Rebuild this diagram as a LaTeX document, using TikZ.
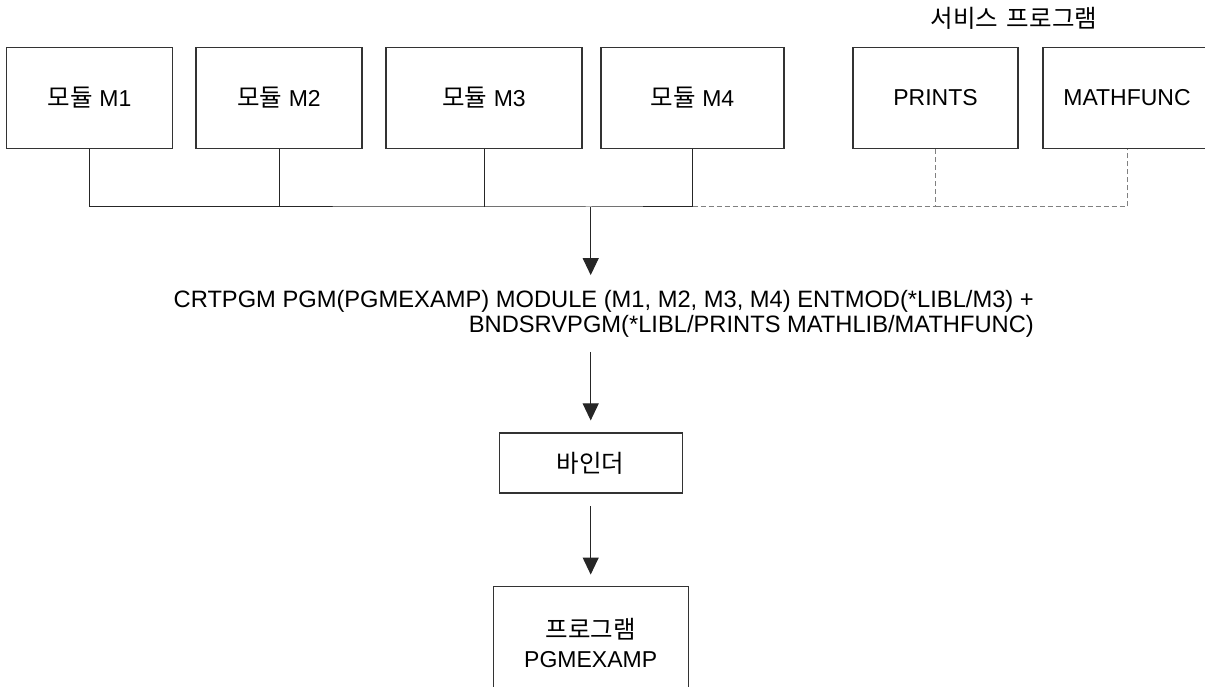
\documentclass[tikz,border=0pt]{standalone}
\usepackage{fontspec}
\setmainfont{Liberation Sans}
\newfontfamily\kr[Scale=1.065]{Noto Sans CJK KR}
\usetikzlibrary{arrows.meta}
\begin{document}
\begin{tikzpicture}[x=1pt,y=-1pt,
  box/.style={draw=black!80, line width=1.1pt, inner sep=0pt,
    font=\fontsize{23}{26}\selectfont},
  link/.style={draw=black!85, line width=1pt},
  svclink/.style={draw=black!50, line width=1pt, dash pattern=on 5pt off 3pt},
  flow/.style={link, -{Triangle[length=17pt,width=16pt]}},
]
\useasboundingbox (0,0) rectangle (1205,687);
\clip (0,0) rectangle (1205,687);

% modules
\node[box, minimum width=166pt, minimum height=101pt] (m1) at (89.7,97.7) {{\kr 모듈} M1};
\node[box, minimum width=166pt, minimum height=101pt] (m2) at (279,97.7) {{\kr 모듈} M2};
\node[box, minimum width=196pt, minimum height=101pt] (m3) at (484,97.7) {{\kr 모듈} M3};
\node[box, minimum width=183pt, minimum height=101pt] (m4) at (692.5,97.7) {{\kr 모듈} M4};

% service programs
\node[font=\kr\fontsize{23}{26}\selectfont] (svc) at (1014,18) {서비스\hspace{3pt} 프로그램};
\node[box, minimum width=165pt, minimum height=101pt] (prt) at (935.5,97.7) {PRINTS};
\node[box, minimum width=168pt, minimum height=101pt] (mf) at (1127,97.7) {MATHFUNC};

% command
\node[align=right, anchor=east, inner sep=0pt, font=\fontsize{23.7}{24.7}\selectfont]
  (cmd) at (1034,313.7)
  {CRTPGM PGM(PGMEXAMP) MODULE (M1, M2, M3, M4) ENTMOD(*LIBL/M3) +\\
   BNDSRVPGM(*LIBL/PRINTS MATHLIB/MATHFUNC)};

% binder and result
\node[box, minimum width=183pt, minimum height=60pt] (bind) at (590.7,463) {{\kr 바인더}};
\node[box, minimum width=195pt, minimum height=113pt, align=center,
  font=\fontsize{23}{29}\selectfont] (prog) at (590.7,643.3) {{\kr 프로그램}\\PGMEXAMP};

% bus
\coordinate (bus) at (590.7,207);
\draw[link] (m1.south) |- (bus) -| (m4.south);
\draw[link] (m2.south) -- (m2.south |- bus);
\draw[link] (m3.south) -- (m3.south |- bus);
\draw[svclink] (m4.south |- bus) -| (prt.south);
\draw[svclink] (prt.south |- bus) -| (mf.south);

% flow
\draw[flow, shorten >=15pt] (bus) -- (bus |- cmd.north);
\draw[flow, shorten <=14.5pt, shorten >=12pt] (bind.north |- cmd.south) -- (bind.north);
\draw[flow, shorten <=12.7pt, shorten >=11.7pt] (bind.south) -- (prog.north);
\end{tikzpicture}
\end{document}
